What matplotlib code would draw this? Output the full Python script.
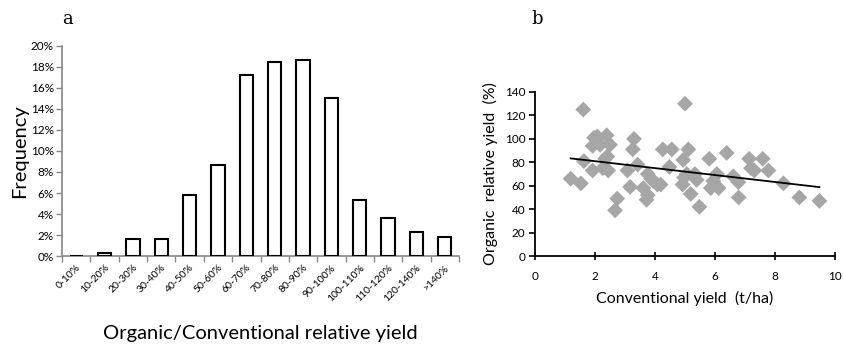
import numpy as np
import matplotlib
matplotlib.use("Agg")
import matplotlib.pyplot as plt
from matplotlib.ticker import PercentFormatter

plt.rcParams['font.family'] = ['Lato', 'DejaVu Sans']

# panel a: frequency distribution of relative yield
classes = ["0-10%", "10-20%", "20-30%", "30-40%", "40-50%", "50-60%", "60-70%",
           "70-80%", "80-90%", "90-100%", "100-110%", "110-120%", "120-140%", ">140%"]
freq = [0.0, 0.3, 1.6, 1.6, 5.8, 8.7, 17.2, 18.5, 18.7, 15.0, 5.3, 3.6, 2.3, 1.8]

# panel b: organic relative yield vs conventional yield
conv_yield = [1.19, 1.53, 1.61, 1.63, 1.92, 1.92, 1.97, 2.08, 2.17, 2.26, 2.34, 2.39,
              2.41, 2.44, 2.50, 2.67, 2.74, 3.08, 3.17, 3.26, 3.30, 3.42, 3.61, 3.72,
              3.76, 3.76, 3.87, 3.94, 4.08, 4.19, 4.26, 4.48, 4.56, 5.00, 4.94, 4.92,
              4.97, 5.11, 5.06, 5.19, 5.33, 5.39, 5.48, 5.81, 5.86, 5.94, 6.06, 6.12,
              6.39, 6.61, 6.78, 6.79, 7.14, 7.20, 7.31, 7.59, 7.78, 8.28, 8.81, 9.48]
rel_yield = [66, 62, 125, 81, 73, 94, 101, 102, 95, 75, 83, 103,
             85, 73, 95, 39, 49, 73, 59, 91, 100, 78, 58, 48,
             52, 70, 66, 64, 61, 61, 91, 76, 91, 130, 82, 61,
             67, 91, 70, 53, 70, 65, 42, 83, 58, 64, 70, 58,
             88, 68, 63, 50, 83, 75, 73, 83, 73, 62, 50, 47]

fig = plt.figure(figsize=(8.45, 3.44), dpi=100)

# ---- a ----
ax1 = fig.add_axes([0.0734, 0.2558, 0.4698, 0.6105])
pos = np.arange(len(classes))
ax1.bar(pos, np.array(freq) / 100, width=0.47, facecolor="white",
        edgecolor="black", linewidth=1.5, zorder=3)
ax1.set_xlim(-0.5, len(classes) - 0.5)
ax1.set_ylim(0, 0.20)
ax1.set_yticks(np.arange(0, 0.201, 0.02))
ax1.yaxis.set_major_formatter(PercentFormatter(1.0, decimals=0))
ax1.set_xticks(pos)
ax1.set_xticklabels(classes, rotation=45, ha="right", rotation_mode="anchor",
                    fontsize=7.5)
ax1.set_xticks(np.arange(-0.5, len(classes)), minor=True)
ax1.tick_params(axis="x", which="major", length=0, pad=5)
ax1.tick_params(axis="x", which="minor", length=4, color="#888888", width=1)
ax1.tick_params(axis="y", length=4, color="#888888", width=1, labelsize=8.5, pad=2)
for s in ["top", "right"]:
    ax1.spines[s].set_visible(False)
for s in ["left", "bottom"]:
    ax1.spines[s].set_color("#888888")
    ax1.spines[s].set_linewidth(1.2)
ax1.set_ylabel("Frequency", fontsize=14.5, labelpad=2)
ax1.set_xlabel("Organic/Conventional relative yield", fontsize=14.5, labelpad=16)
fig.text(0.074, 0.945, "a", fontsize=13, family="DejaVu Serif", va="center")

# ---- b ----
ax2 = fig.add_axes([0.6331, 0.2558, 0.3551, 0.4768])
ax2.scatter(conv_yield, rel_yield, marker="D", s=65, color="#A6A6A6",
            edgecolors="none", zorder=3)
k, b = np.polyfit(conv_yield, rel_yield, 1)
xl = np.array([min(conv_yield), max(conv_yield)])
ax2.plot(xl, k * xl + b, color="black", linewidth=1.3, zorder=4)
ax2.set_xlim(0, 10)
ax2.set_ylim(0, 140)
ax2.set_xticks(range(0, 11, 2))
ax2.set_yticks(range(0, 141, 20))
ax2.tick_params(axis="both", length=4, color="black", width=1.2, labelsize=8.5, pad=3)
ax2.tick_params(axis="x", direction="inout", length=6, pad=8)
for s in ["top", "right"]:
    ax2.spines[s].set_visible(False)
for s in ["left", "bottom"]:
    ax2.spines[s].set_linewidth(1.3)
ax2.set_ylabel("Organic  relative yield  (%)", fontsize=11.5, labelpad=5)
ax2.set_xlabel("Conventional yield  (t/ha)", fontsize=11.5, labelpad=6)
fig.text(0.629, 0.945, "b", fontsize=13, family="DejaVu Serif", va="center")

fig.savefig("out.png", dpi=100)
